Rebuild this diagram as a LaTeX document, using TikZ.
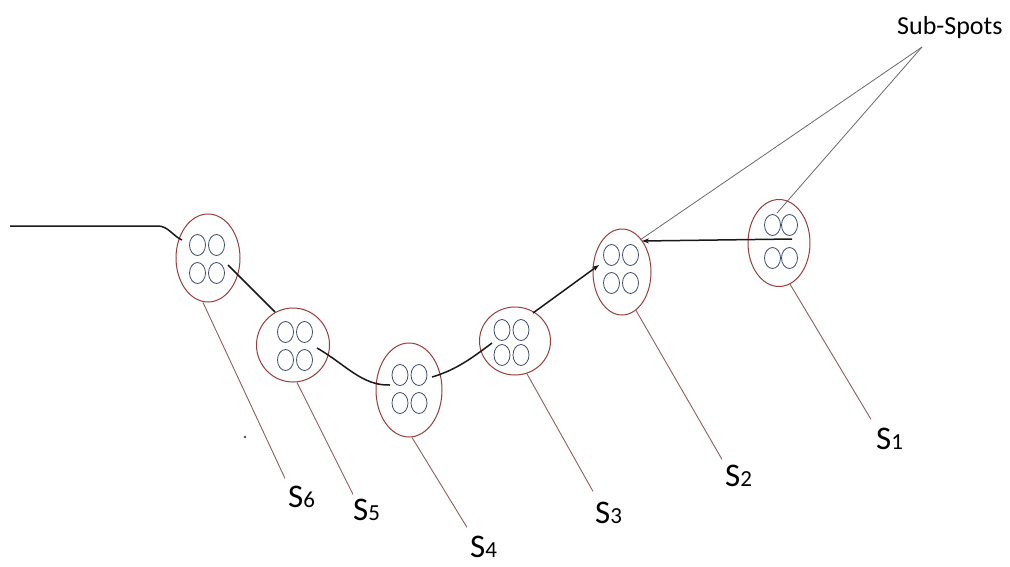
\documentclass[tikz,border=0pt]{standalone}
\usepackage{fontspec}
\setmainfont{Carlito}
\usetikzlibrary{shapes.geometric,calc,arrows.meta}
\definecolor{spotrim}{RGB}{150,62,62}
\definecolor{subrim}{RGB}{62,74,104}
\definecolor{leader}{RGB}{140,96,96}
\definecolor{pointer}{RGB}{105,105,105}
\definecolor{trackcol}{RGB}{25,25,25}
\tikzset{
  spot/.style={ellipse, draw=spotrim, line width=1pt, inner sep=0pt},
  subspot/.style={draw=subrim, line width=0.8pt},
  track/.style={draw=trackcol, line width=1.5pt},
  tracktip/.style={-{Stealth[length=7pt,width=5pt]}},
  leaderline/.style={draw=leader, line width=0.9pt},
  pointerline/.style={draw=pointer, line width=0.8pt},
  spotlabel/.style={inner sep=0pt, anchor=base west, font=\fontsize{33}{33}\selectfont},
}
\newcommand\spotname[1]{S{\fontsize{23}{23}\selectfont #1}}
\begin{document}
\begin{tikzpicture}[x=1pt,y=-1pt]
  \fill[white] (0,0) rectangle (1010,566);
  \useasboundingbox (0,0) rectangle (1010,566);

  % spots along the track
  \node[spot, minimum width=64pt, minimum height=88pt] (s6) at (208,258) {};
  \node[spot, minimum width=73pt, minimum height=74pt] (s5) at (293,345) {};
  \node[spot, minimum width=66pt, minimum height=94pt] (s4) at (409,390) {};
  \node[spot, minimum width=71pt, minimum height=68pt] (s3) at (515,341) {};
  \node[spot, minimum width=58pt, minimum height=86pt] (s2) at (622,272) {};
  \node[spot, minimum width=62pt, minimum height=87pt] (s1) at (779,243) {};

  % four sub-spots inside each spot: centre x, centre y, half gap x, half gap y
  \foreach \cx/\cy/\gx/\gy in {207/259/9.5/14, 295/346/9.5/14, 409.5/389/9.5/14,
                                511.5/342.5/9.5/12.5, 621/269/9.5/14, 781/241.5/8.5/16.5} {
    \foreach \sx in {-1,1} {
      \foreach \sy in {-1,1} {
        \draw[subspot] (\cx+\sx*\gx,\cy+\sy*\gy) ellipse [x radius=8pt, y radius=10.5pt];
      }
    }
  }

  % the track through the spots
  \coordinate (entry) at (10,226);
  \draw[track] (entry) -- (158,226) .. controls (168,226) and (173,236) .. ($(s6)+(-26,-18)$);
  \draw[track] ($(s6)+(20,7)$) -- ($(s5)+(-18,-33)$);
  \draw[track] ($(s5)+(24,3)$) .. controls (345,364) and (362,386) .. ($(s4)+(-19,-5)$);
  \draw[track] ($(s4)+(23,-13)$) .. controls (456,370) and (472,358) .. ($(s3)+(-23,2)$);
  \draw[track, tracktip] ($(s3)+(18,-28)$) -- ($(s2)+(-23,-7)$);
  \draw[track, tracktip] ($(s1)+(13,-4)$) -- ($(s2)+(20,-31)$);

  % spot labels and their leaders
  \node[spotlabel] (l6) at (288,507) {\spotname{6}};
  \node[spotlabel] (l5) at (353,520) {\spotname{5}};
  \node[spotlabel] (l4) at (470,557) {\spotname{4}};
  \node[spotlabel] (l3) at (595,523) {\spotname{3}};
  \node[spotlabel] (l2) at (725,486) {\spotname{2}};
  \node[spotlabel] (l1) at (876,449) {\spotname{1}};

  \draw[leaderline] ($(s6.south)+(-5,0)$) -- ($(l6.north west)+(-3,-7)$);
  \draw[leaderline] ($(s5.south)+(4,0)$) -- ($(l5.north west)+(0,-4)$);
  \draw[leaderline] ($(s4.south)+(3,0)$) -- ($(l4.north west)+(-3,-8)$);
  \draw[leaderline] (s3.-70) -- ($(l3.north west)+(-2,-10)$);
  \draw[leaderline] (s2.-70) -- ($(l2.north west)+(-3,-5)$);
  \draw[leaderline] (s1.-75) -- ($(l1.north west)+(-5,-8)$);

  % callout for the sub-spots
  \node[inner sep=0pt, anchor=base west, font=\fontsize{26}{26}\selectfont] (subs) at (897,34) {Sub-Spots};
  \coordinate (callout) at (922,47);
  \draw[pointerline] (callout) -- ($(s2)+(18,-32)$);
  \draw[pointerline] (callout) -- ($(s1)+(-2,-30)$);

  % stray mark on the sheet
  \fill[black!70] (245,437) circle [radius=1.3pt];
\end{tikzpicture}
\end{document}
